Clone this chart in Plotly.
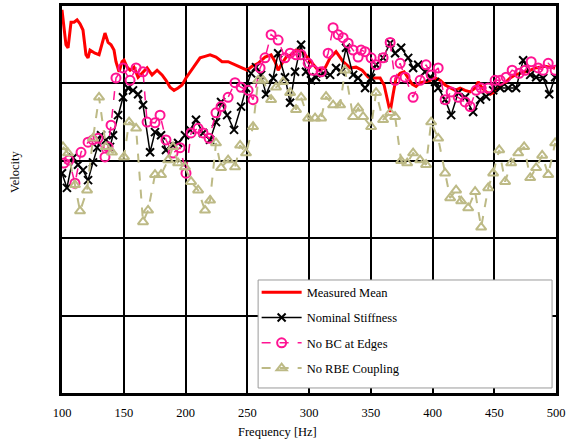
import plotly.graph_objects as go

# ---------------- data ----------------
mean_f = [100, 101.6, 103.2, 104.9, 107.3, 109.7, 112.2, 114.6, 117, 119.4, 121.1, 122.7, 126.7, 130,
          132.4, 134.8, 137.3, 139.7, 142.1, 143.7, 146.2, 148.6, 150.2, 152.7, 155.1, 158.3, 161.6,
          164.8, 168.9, 172.9, 177, 181, 184.2, 187.5, 190.7, 194, 197.2, 200.4, 203.7, 207.7, 211.8,
          215.8, 219.9, 224.7, 229.6, 234.5, 240.1, 245, 249.9, 253.9, 258.8, 264.4, 269.3, 272.5, 275,
          278.2, 281.5, 285.5, 289.5, 293.6, 296.8, 301.7, 307.4, 313, 317.1, 321.9, 327.6, 333.3, 338.1,
          343, 347.9, 352.7, 357.6, 360.8, 363.3, 365.7, 368.1, 370.5, 373.8, 377, 380.3, 383.5, 386.7,
          390, 394, 398.1, 402.1, 406.2, 410.2, 414.3, 418.3, 422.4, 426.4, 430.5, 434.5, 437, 440.2,
          443.4, 446.7, 449.9, 453.2, 456.4, 459.6, 462.9, 466.9, 471, 475, 479.1, 483.1, 487.2, 491.2,
          495.3, 499.3]
mean_v = [4.95, 4.75, 4.50, 4.46, 4.79, 4.79, 4.82, 4.77, 4.69, 4.37, 4.33, 4.43, 4.39, 4.37,
          4.50, 4.65, 4.53, 4.50, 4.43, 4.28, 4.15, 4.28, 4.30, 4.21, 4.17, 4.21, 4.08,
          4.13, 4.20, 4.11, 4.17, 4.11, 4.04, 3.95, 3.91, 3.94, 3.98, 4.07, 4.15, 4.24, 4.33,
          4.35, 4.37, 4.34, 4.28, 4.28, 4.24, 4.21, 4.17, 4.22, 4.26, 4.34, 4.37, 4.28, 4.17,
          4.26, 4.34, 4.37, 4.43, 4.43, 4.37, 4.28, 4.17, 4.20, 4.33, 4.41, 4.28, 4.20, 4.21,
          4.17, 4.08, 4.07, 4.07, 3.98, 3.82, 3.63, 3.86, 4.07, 4.13, 4.15, 4.07, 3.99, 3.96,
          4.01, 4.02, 4.04, 4.07, 4.04, 3.98, 3.94, 3.91, 3.94, 3.91, 3.89, 3.94, 4.02, 3.94,
          3.89, 3.86, 3.89, 3.94, 3.98, 4.02, 4.07, 4.11, 4.13, 4.15, 4.17, 4.20, 4.21, 4.22,
          4.21, 4.20]

nom_f = [100, 104, 108.9, 113, 117, 121.1, 125.1, 128.4, 131.6, 135.6, 138.9, 141.3, 145.4, 149.4,
         153.5, 157.5, 161.6, 165.6, 171.3, 175.3, 180.2, 184.2, 189.9, 194, 199.6, 203.7, 208.5,
         214.2, 219.9, 224.7, 228.8, 233.7, 239.3, 245, 249, 253.1, 257.1, 261.2, 265.2, 270.9, 275,
         280.6, 284.7, 288.7, 293.6, 297.6, 301.7, 305.7, 311.4, 317.1, 321.9, 326, 330, 335.7, 339.8,
         345.4, 350.3, 354.3, 360, 365.7, 369.7, 374.6, 380.3, 384.3, 388.4, 394, 398.1, 402.1, 404.6,
         410.2, 415.1, 420.8, 426.4, 432.9, 438.6, 443.4, 449.1, 454.8, 461.3, 467.7, 473.4, 479.1,
         483.9, 489.6, 494.5, 499.3]
nom_v = [2.84, 2.65, 3.04, 2.95, 2.88, 2.75, 2.98, 3.17, 3.33, 3.27, 3.18, 3.33, 3.59, 3.82,
         3.94, 3.91, 3.86, 3.72, 3.11, 3.37, 3.33, 3.14, 3.20, 3.23, 3.33, 3.40, 3.53,
         3.36, 3.27, 3.50, 3.76, 3.59, 3.40, 3.70, 3.94, 4.13, 4.21, 4.11, 3.86, 4.07, 4.39,
         4.08, 3.75, 4.15, 4.50, 4.15, 4.04, 4.08, 4.13, 4.11, 4.20, 4.15, 4.46, 4.11, 4.07,
         3.94, 4.07, 4.24, 4.33, 4.52, 4.39, 4.46, 4.33, 4.20, 4.24, 4.15, 4.08, 4.02, 3.94,
         3.79, 3.59, 3.88, 3.82, 3.63, 3.79, 3.83, 3.91, 3.94, 3.94, 3.94, 4.30, 4.11,
         4.08, 4.07, 3.86, 4.08]

nobc_f = [101.6, 105.7, 110.5, 115.4, 121.1, 125.1, 129.2, 134.8, 137.3, 139.7, 143.7, 149.4, 155.1,
          160, 165.6, 168.9, 175.3, 179.4, 184.2, 189.9, 195.6, 200.4, 204.5, 210.2, 214.2, 219.1,
          224.7, 228.8, 234.5, 240.1, 245, 250.7, 254.7, 260.4, 264.4, 269.3, 275, 280.6, 284.7, 289.5,
          293.6, 299.3, 303.3, 309.8, 315.5, 319.5, 323.6, 327.6, 331.7, 335.7, 339.8, 342.2, 345.4,
          350.3, 354.3, 360, 365.7, 369.7, 373.8, 377.8, 384.3, 390, 394.8, 398.9, 404.6, 410.2, 415.1,
          420.8, 426.4, 430.5, 435.3, 439.4, 445.1, 450.7, 454.8, 459.6, 464.5, 470.2, 475, 479.9,
          485.6, 489.6, 493.7, 499.3]
nobc_v = [2.97, 3.01, 2.71, 3.11, 3.24, 3.27, 3.29, 3.05, 3.18, 3.46, 4.07, 4.20, 4.04,
          4.20, 4.15, 3.50, 3.49, 3.59, 3.27, 3.10, 3.17, 2.84, 3.36, 3.42, 3.36, 3.29,
          3.62, 3.70, 3.82, 4.01, 3.95, 3.91, 3.79, 4.20, 4.33, 4.63, 4.56, 4.33, 4.39, 4.37,
          4.37, 4.26, 4.17, 4.15, 4.39, 4.72, 4.63, 4.59, 4.52, 4.43, 4.34, 4.43, 4.41,
          4.33, 4.24, 4.33, 4.53, 4.04, 4.26, 4.08, 3.82, 4.04, 4.24, 4.11, 4.20, 3.79, 3.89,
          3.82, 3.76, 3.70, 3.91, 3.94, 3.94, 4.04, 4.04, 4.08, 4.17, 4.13, 4.17, 4.28,
          4.20, 4.17, 4.26, 4.17]

norbe_f = [100.8, 104.9, 110.5, 114.6, 120.3, 125.1, 130, 135.6, 140.5, 150.2, 154.3, 160, 165.6,
           169.7, 175.3, 180.2, 185.9, 189.9, 194, 199.6, 204.5, 210.2, 215.8, 219.9, 224.7, 228.8,
           234.5, 240.1, 244.2, 249, 254.7, 258.8, 262.8, 269.3, 273.3, 279, 284.7, 289.5, 293.6, 299.3,
           304.9, 309.8, 313.8, 319.5, 325.2, 329.2, 335.7, 339.8, 343.8, 350.3, 354.3, 360, 365.7,
           369.7, 374.6, 379.5, 384.3, 390, 394.8, 398.9, 404.6, 410.2, 414.3, 419.1, 423.2, 428.9,
           434.5, 439.4, 445.1, 449.1, 454, 458.8, 463.7, 469.4, 474.2, 479.1, 483.9, 488.8, 493.7,
           499.3]
norbe_v = [3.18, 3.10, 2.69, 2.35, 2.62, 3.29, 3.82, 3.18, 3.11, 3.05, 3.50, 3.42, 2.21,
           2.36, 2.82, 2.82, 3.01, 3.18, 2.97, 2.92, 2.73, 2.62, 2.36, 2.49, 3.23, 2.91,
           3.01, 2.92, 3.20, 3.10, 3.44, 4.04, 4.04, 3.79, 3.95, 4.02, 3.88, 3.66, 3.82, 3.55,
           3.55, 3.55, 3.83, 3.72, 3.72, 4.17, 3.57, 3.68, 3.57, 3.44, 3.88, 3.53, 3.62,
           3.57, 3.00, 2.97, 3.10, 3.01, 2.95, 3.50, 3.29, 2.84, 2.52, 2.62, 2.48, 2.39,
           2.60, 2.14, 2.65, 2.84, 3.14, 2.73, 2.97, 3.10, 3.18, 2.78, 2.91, 3.07, 2.82,
           3.23]

x_ticks = [100, 150, 200, 250, 300, 350, 400, 450, 500]
series_names = ["Measured Mean", "Nominal Stiffness", "No BC at Edges", "No RBE Coupling"]

FONT = "Liberation Serif"
PINK = "#FF1493"
OLIVE = "#BDBA86"

fig = go.Figure()
fig.add_trace(go.Scatter(x=mean_f, y=mean_v, mode="lines", name=series_names[0],
                         line=dict(color="#FF0000", width=3), legendgroup="a"))
fig.add_trace(go.Scatter(x=nom_f, y=nom_v, mode="lines+markers", name=series_names[1],
                         line=dict(color="black", width=1.5),
                         marker=dict(symbol="x-thin-open", size=8, line=dict(color="black", width=2)),
                         legendgroup="b"))
fig.add_trace(go.Scatter(x=nobc_f, y=nobc_v, mode="lines+markers", name=series_names[2],
                         line=dict(color=PINK, width=1.5, dash="dash"),
                         marker=dict(symbol="circle-open", size=9, color=PINK, line=dict(color=PINK, width=2)),
                         legendgroup="c"))
fig.add_trace(go.Scatter(x=norbe_f, y=norbe_v, mode="lines+markers", name=series_names[3],
                         line=dict(color=OLIVE, width=2, dash="dash"),
                         marker=dict(symbol="triangle-up-open", size=9, color=OLIVE, line=dict(color=OLIVE, width=2)),
                         legendgroup="d"))

fig.update_layout(
    width=569, height=446,
    margin=dict(l=62, r=13, t=6, b=53, autoexpand=False),
    paper_bgcolor="white", plot_bgcolor="white",
    font=dict(family=FONT, size=12, color="black"),
    showlegend=True,
    legend=dict(x=0.394, y=0.298, xanchor="left", yanchor="top",
                bgcolor="rgba(0,0,0,0)", borderwidth=0,
                font=dict(family=FONT, size=12.5, color="black"),
                tracegroupgap=6, itemwidth=40),
    shapes=[dict(type="rect", xref="paper", yref="paper",
                 x0=0.397, x1=0.992, y0=0.013, y1=0.292,
                 line=dict(color="#9a9a9a", width=1), fillcolor="white", layer="above")],
    annotations=[
        dict(text="Frequency [Hz]", xref="paper", yref="paper", x=(277 - 62) / 494, y=-39 / 387,
             xanchor="center", yanchor="middle", showarrow=False, font=dict(family=FONT, size=12.5)),
        dict(text="Velocity", xref="paper", yref="paper", x=-47 / 494, y=(393 - 172) / 387,
             xanchor="center", yanchor="middle", showarrow=False, textangle=-90,
             font=dict(family=FONT, size=12.5)),
    ],
)
fig.update_xaxes(range=[100, 500], tickvals=x_ticks, ticktext=[str(t) for t in x_ticks],
                 showgrid=True, gridcolor="black", gridwidth=2,
                 showline=True, linecolor="black", linewidth=3, mirror=True,
                 ticks="", zeroline=False, tickfont=dict(family=FONT, size=12.5),
                 ticklabelstandoff=6)
fig.update_yaxes(range=[0, 5], dtick=1, showticklabels=False,
                 showgrid=True, gridcolor="black", gridwidth=2,
                 showline=True, linecolor="black", linewidth=3, mirror=True,
                 ticks="", zeroline=False)

fig.write_html("out.html")
